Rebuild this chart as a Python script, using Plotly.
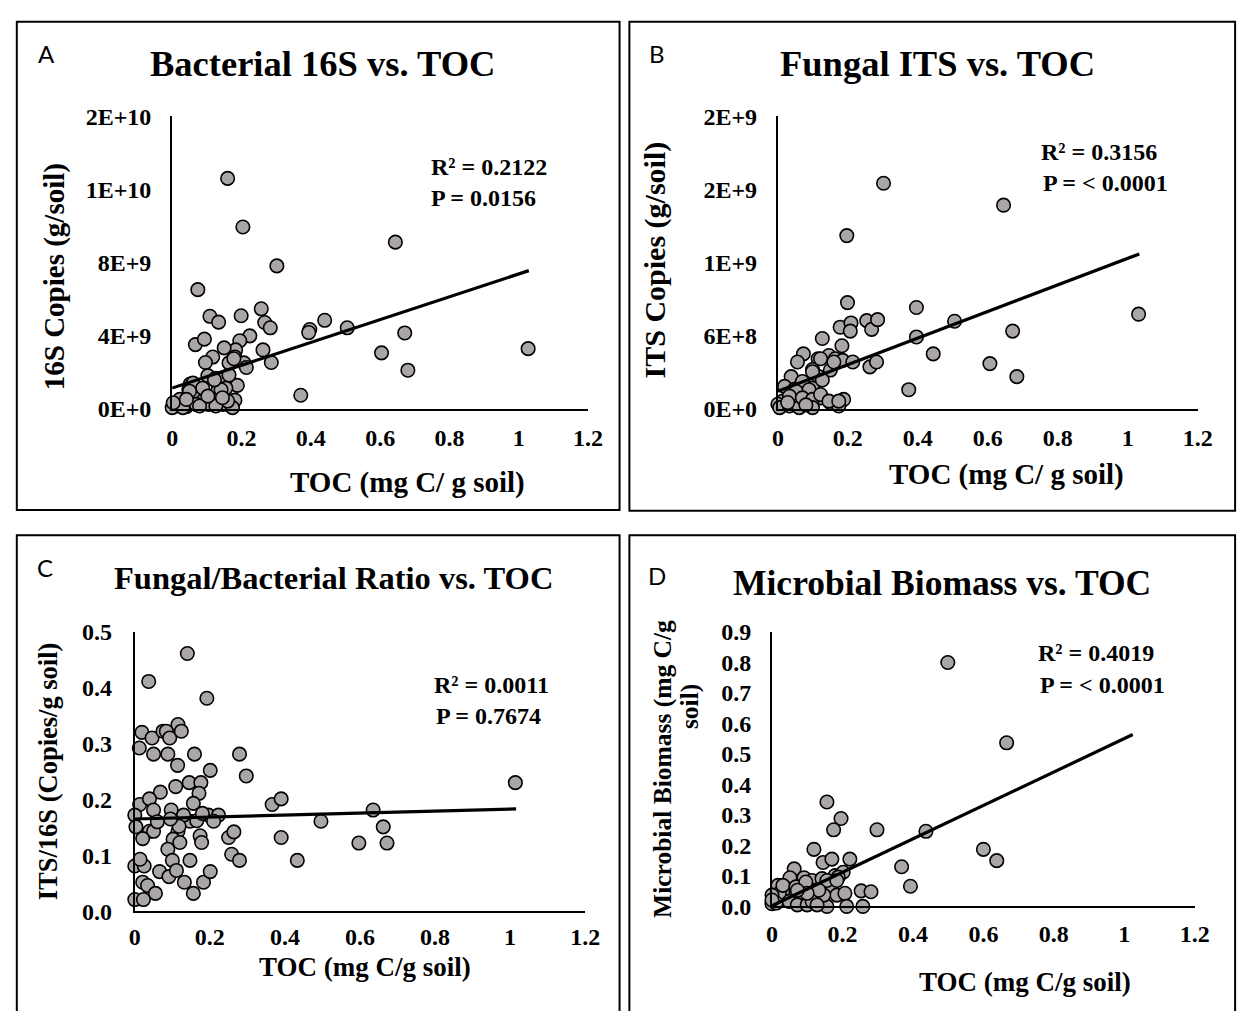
import plotly.graph_objects as go

W, H = 1256, 1011

# ---------------- data ----------------
# Panel A: Bacterial 16S copies vs TOC
toc_a = [0.160, 0.204, 0.644, 0.302, 0.074, 0.109, 0.134, 0.199, 0.257, 0.267, 0.283, 0.440, 0.397, 0.394,
         0.505, 0.671, 1.027, 0.604, 0.680, 0.371, 0.067, 0.093, 0.224, 0.195, 0.183, 0.150, 0.117, 0.096,
         0.181, 0.207, 0.214, 0.262, 0.286, 0.103, 0.126, 0.143, 0.188, 0.052, 0.048, 0.072, 0.088, 0.122,
         0.147, 0.181, 0.174, 0.022, 0.008, 0.014, 0.041, 0.069, 0.000, 0.105, 0.131, 0.155, 0.164, 0.060,
         0.088, 0.141, 0.160, 0.031, 0.126, 0.164, 0.178, 0.003, 0.145, 0.050, 0.079, 0.122, 0.103, 0.041]
copies_16s = [12.6e9, 9.94e9, 9.11e9, 7.81e9, 6.51e9, 5.05e9, 4.73e9, 5.08e9, 5.46e9, 4.71e9, 4.42e9, 4.83e9,
              4.33e9, 4.16e9, 4.42e9, 4.14e9, 3.28e9, 3.05e9, 2.10e9, 0.73e9, 3.50e9, 3.80e9, 3.98e9, 3.71e9,
              3.21e9, 3.32e9, 2.82e9, 2.52e9, 2.82e9, 2.50e9, 2.25e9, 3.21e9, 2.52e9, 1.80e9, 1.66e9, 1.57e9,
              1.27e9, 1.34e9, 1.03e9, 0.73e9, 0.41e9, 0.64e9, 0.23e9, 0.46e9, 0.05e9, 0.50e9, 0.23e9, 0.14e9,
              0.11e9, 0.23e9, 0.05e9, 0.23e9, 0.95e9, 1.12e9, 1.84e9, 1.39e9, 1.12e9, 1.03e9, 0.41e9, 0.05e9,
              0.14e9, 2.50e9, 2.73e9, 0.32e9, 0.59e9, 0.95e9, 0.14e9, 1.57e9, 0.68e9, 0.50e9]
trend_a_x = [0.0, 1.029]
trend_a_y = [1.12e9, 7.55e9]

# Panel B: Fungal ITS copies vs TOC
toc_b = [0.302, 0.645, 0.197, 0.199, 0.396, 1.031, 0.505, 0.671, 0.396, 0.444, 0.606, 0.683, 0.374, 0.127,
         0.178, 0.209, 0.207, 0.254, 0.268, 0.285, 0.183, 0.073, 0.056, 0.115, 0.146, 0.164, 0.185, 0.214,
         0.263, 0.282, 0.099, 0.150, 0.038, 0.117, 0.019, 0.047, 0.099, 0.066, 0.122, 0.150, 0.178, 0.188,
         0.014, 0.000, 0.005, 0.033, 0.061, 0.174, 0.122, 0.160, 0.099, 0.070, 0.127, 0.089, 0.052, 0.033,
         0.070, 0.099, 0.122, 0.146, 0.174, 0.099, 0.028, 0.080]
copies_its = [18.5e8, 16.7e8, 14.2e8, 8.7e8, 8.3e8, 7.75e8, 7.17e8, 6.36e8, 5.88e8, 4.49e8, 3.69e8, 2.62e8,
              1.55e8, 5.75e8, 6.68e8, 7.03e8, 6.36e8, 7.22e8, 6.5e8, 7.3e8, 5.16e8, 4.49e8, 3.82e8, 4.09e8,
              4.36e8, 4.09e8, 3.96e8, 3.82e8, 3.42e8, 3.82e8, 3.21e8, 3.16e8, 2.62e8, 2.62e8, 1.82e8, 1.55e8,
              1.68e8, 1.15e8, 0.88e8, 0.48e8, 0.48e8, 0.75e8, 0.61e8, 0.35e8, 0.08e8, 0.21e8, 0.08e8, 0.21e8,
              4.09e8, 3.82e8, 3.02e8, 2.22e8, 2.35e8, 1.55e8, 1.42e8, 1.02e8, 0.88e8, 0.75e8, 1.15e8, 0.61e8,
              0.61e8, 0.08e8, 0.5e8, 0.3e8]
trend_b_x = [0.0, 1.033]
trend_b_y = [1.42e8, 1.27e9]

# Panel C: ITS/16S ratio vs TOC
toc_c = [0.140, 0.037, 0.192, 0.019, 0.046, 0.012, 0.075, 0.084, 0.093, 0.115, 0.124, 0.050, 0.088, 0.114,
         0.159, 0.201, 0.279, 0.297, 1.014, 0.109, 0.068, 0.145, 0.176, 0.171, 0.013, 0.039, 0.050, 0.000,
         0.097, 0.156, 0.003, 0.039, 0.050, 0.021, 0.115, 0.102, 0.120, 0.088, 0.100, 0.147, 0.174, 0.178,
         0.196, 0.223, 0.210, 0.366, 0.390, 0.635, 0.496, 0.662, 0.672, 0.597, 0.390, 0.433, 0.250, 0.264,
         0.258, 0.279, 0.000, 0.025, 0.014, 0.066, 0.091, 0.111, 0.132, 0.147, 0.183, 0.201, 0.156, 0.021,
         0.034, 0.055, 0.000, 0.023, 0.130, 0.165, 0.118, 0.095, 0.180, 0.060]
ratio_c = [0.461, 0.411, 0.381, 0.320, 0.310, 0.292, 0.322, 0.322, 0.310, 0.334, 0.322, 0.281, 0.281, 0.261,
           0.281, 0.252, 0.281, 0.242, 0.230, 0.223, 0.213, 0.230, 0.230, 0.211, 0.191, 0.201, 0.181, 0.172,
           0.181, 0.193, 0.151, 0.143, 0.143, 0.130, 0.143, 0.129, 0.123, 0.111, 0.091, 0.161, 0.135, 0.123,
           0.172, 0.172, 0.161, 0.191, 0.201, 0.181, 0.161, 0.151, 0.122, 0.122, 0.132, 0.091, 0.132, 0.142,
           0.102, 0.091, 0.081, 0.081, 0.093, 0.071, 0.062, 0.073, 0.052, 0.091, 0.052, 0.071, 0.032, 0.052,
           0.046, 0.032, 0.021, 0.021, 0.172, 0.162, 0.152, 0.165, 0.175, 0.160]
trend_c_x = [0.0, 1.016]
trend_c_y = [0.165, 0.183]

# Panel D: Microbial biomass vs TOC
toc_d = [0.499, 0.666, 0.156, 0.196, 0.175, 0.298, 0.437, 0.600, 0.638, 0.368, 0.393, 0.119, 0.145, 0.170,
         0.221, 0.063, 0.051, 0.091, 0.114, 0.142, 0.179, 0.202, 0.188, 0.017, 0.040, 0.068, 0.021, 0.091,
         0.123, 0.170, 0.184, 0.207, 0.253, 0.281, 0.000, 0.000, 0.012, 0.049, 0.072, 0.100, 0.114, 0.156,
         0.212, 0.258, 0.147, 0.031, 0.068, 0.096, 0.156, 0.184, 0.133, 0.100, 0.072, 0.000, 0.128]
biomass_d = [0.799, 0.536, 0.342, 0.288, 0.251, 0.251, 0.246, 0.187, 0.150, 0.130, 0.066, 0.187, 0.144, 0.155,
             0.155, 0.123, 0.094, 0.094, 0.085, 0.091, 0.101, 0.112, 0.096, 0.069, 0.059, 0.048, 0.043, 0.043,
             0.053, 0.053, 0.037, 0.043, 0.051, 0.048, 0.037, 0.009, 0.011, 0.016, 0.005, 0.005, 0.016, 0.000,
             0.000, 0.000, 0.037, 0.069, 0.064, 0.080, 0.085, 0.085, 0.053, 0.043, 0.053, 0.021, 0.005]
trend_d_x = [0.0, 1.024]
trend_d_y = [0.002, 0.563]

x_ticks = [0, 0.2, 0.4, 0.6, 0.8, 1.0, 1.2]
x_ticktext = ["0", "0.2", "0.4", "0.6", "0.8", "1", "1.2"]
ya_ticks = [0, 4e9, 8e9, 1.2e10, 1.6e10]
ya_text = ["0E+0", "4E+9", "8E+9", "1E+10", "2E+10"]
yb_ticks = [0, 6e8, 1.2e9, 1.8e9, 2.4e9]
yb_text = ["0E+0", "6E+8", "1E+9", "2E+9", "2E+9"]
yc_ticks = [0, 0.1, 0.2, 0.3, 0.4, 0.5]
yc_text = ["0.0", "0.1", "0.2", "0.3", "0.4", "0.5"]
yd_ticks = [0, 0.1, 0.2, 0.3, 0.4, 0.5, 0.6, 0.7, 0.8, 0.9]
yd_text = ["0.0", "0.1", "0.2", "0.3", "0.4", "0.5", "0.6", "0.7", "0.8", "0.9"]

# ---------------- layout helpers ----------------
def fx(p):
    return p / W

def fy(p):
    return 1 - p / H

SERIF = "Liberation Serif"
MARK = dict(size=13.5, color="#aaa6a5", line=dict(color="black", width=1.6))

fig = go.Figure()

panels = [
    # xs, ys, trend x, trend y, xaxis, yaxis, x px span, y px span (top,bottom), y range, y ticks, y text, x standoff, y standoff
    (toc_a, copies_16s, trend_a_x, trend_a_y, "x", "y", (169, 592), (106, 406), [0, 1.6e10], ya_ticks, ya_text, 7, 14),
    (toc_b, copies_its, trend_b_x, trend_b_y, "x2", "y2", (785, 1212), (106, 406), [0, 2.4e9], yb_ticks, yb_text, 7, 14),
    (toc_c, ratio_c, trend_c_x, trend_c_y, "x3", "y3", (131, 589), (635, 922), [0, 0.5], yc_ticks, yc_text, 3, 16),
    (toc_d, biomass_d, trend_d_x, trend_d_y, "x4", "y4", (779, 1209), (635, 917), [0, 0.9], yd_ticks, yd_text, 5, 14),
]

layout_axes = {}
for i, (xs, ys, tx, ty, xa, ya, xpx, ypx, yr, ytv, ytt, xso, yso) in enumerate(panels):
    fig.add_trace(go.Scatter(x=xs, y=ys, mode="markers", marker=MARK, xaxis=xa, yaxis=ya,
                             cliponaxis=False, showlegend=False, hoverinfo="skip"))
    fig.add_trace(go.Scatter(x=tx, y=ty, mode="lines", line=dict(color="black", width=3.2),
                             xaxis=xa, yaxis=ya, cliponaxis=False, showlegend=False, hoverinfo="skip"))
    sfx = "" if i == 0 else str(i + 1)
    layout_axes["xaxis" + sfx] = dict(
        domain=[fx(xpx[0]), fx(xpx[1])], range=[0, 1.2], anchor=ya,
        tickmode="array", tickvals=x_ticks, ticktext=x_ticktext,
        showline=True, linecolor="black", linewidth=2, showgrid=False, zeroline=False,
        ticks="", ticklabelstandoff=xso,
        tickfont=dict(family=SERIF, size=24, color="black", weight="bold"),
    )
    layout_axes["yaxis" + sfx] = dict(
        domain=[fy(ypx[1]), fy(ypx[0])], range=yr, anchor=xa,
        tickmode="array", tickvals=ytv, ticktext=ytt,
        showline=True, linecolor="black", linewidth=2, showgrid=False, zeroline=False,
        ticks="", ticklabelstandoff=yso,
        tickfont=dict(family=SERIF, size=24, color="black", weight="bold"),
    )

fig.update_layout(**layout_axes)

# panel borders
borders = [(11, 9, 624, 510), (634, 9, 1250, 511), (11, 536, 624, 1030), (634, 536, 1250, 1030)]
shapes = []
for (x0, y0, x1, y1) in borders:
    shapes.append(dict(type="rect", xref="paper", yref="paper", x0=fx(x0), x1=fx(x1), y0=fy(y1), y1=fy(y0),
                       line=dict(color="black", width=2), fillcolor="rgba(0,0,0,0)", layer="below"))

annotations = []

def ann(text, x, y, size, family=SERIF, weight="bold", angle=0, xanchor="center"):
    annotations.append(dict(text=text, x=fx(x), y=fy(y), xref="paper", yref="paper", showarrow=False,
                            xanchor=xanchor, yanchor="middle", textangle=angle,
                            font=dict(family=family, size=size, color="black", weight=weight)))

# panel letters
for letter, (lx, ly) in zip(["A", "B", "C", "D"], [(41, 42), (662, 42), (40, 569), (662, 577)]):
    ann(letter, lx, ly, 24, family="Lato", weight="normal")

# titles
ann("Bacterial 16S vs. TOC", 322, 52, 36.5)
ann("Fungal ITS vs. TOC", 947, 52, 36.5)
ann("Fungal/Bacterial Ratio vs. TOC", 333, 580, 32.5)
ann("Microbial Biomass vs. TOC", 952, 585, 35.5)

# x-axis titles
ann("TOC (mg C/ g soil)", 408, 482, 29)
ann("TOC (mg C/ g soil)", 1018, 474, 29)
ann("TOC (mg C/g soil)", 365, 979, 27)
ann("TOC (mg C/g soil)", 1036, 995, 27)

# y-axis titles
ann("16S Copies (g/soil)", 49, 271, 29, angle=-90)
ann("ITS Copies (g/soil)", 661, 253, 30, angle=-90)
ann("ITS/16S (Copies/g soil)", 43, 778, 26.5, angle=-90)
ann("Microbial Biomass (mg C/g", 667, 776, 25.5, angle=-90)
ann("soil)", 695, 712, 25.5, angle=-90)

# statistics
ann("R² = 0.2122", 430, 158, 24, xanchor="left")
ann("P = 0.0156", 430, 190, 24, xanchor="left")
ann("R² = 0.3156", 1051, 143, 24, xanchor="left")
ann("P = < 0.0001", 1053, 175, 24, xanchor="left")
ann("R² = 0.0011", 433, 690, 24, xanchor="left")
ann("P = 0.7674", 435, 722, 24, xanchor="left")
ann("R² = 0.4019", 1048, 657, 24, xanchor="left")
ann("P = < 0.0001", 1050, 690, 24, xanchor="left")

fig.update_layout(
    width=W, height=H, margin=dict(l=0, r=0, t=0, b=0),
    paper_bgcolor="white", plot_bgcolor="white",
    shapes=shapes, annotations=annotations, showlegend=False,
    font=dict(family=SERIF, color="black"),
)

fig.write_html("out.html",
               post_script="document.body.style.margin='0';document.body.style.overflow='hidden';")
